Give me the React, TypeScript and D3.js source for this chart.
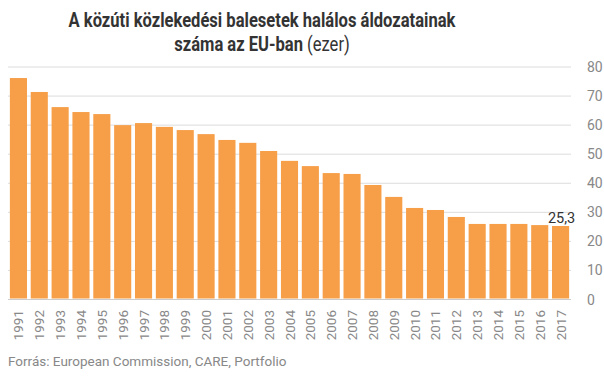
import React from "react";
import * as d3 from "d3";

const years = ["1991","1992","1993","1994","1995","1996","1997","1998","1999","2000","2001","2002","2003","2004","2005","2006","2007","2008","2009","2010","2011","2012","2013","2014","2015","2016","2017"];
const deaths = [76.2,71.4,66.2,64.5,63.8,60.0,60.7,59.4,58.3,56.9,54.9,53.9,51.1,47.7,45.9,43.5,43.2,39.4,35.3,31.5,30.8,28.4,26.0,26.0,26.0,25.6,25.3];
const yTicks = [0,10,20,30,40,50,60,70,80];
const lastLabel = "25,3";

const W = 604, H = 376;
const left = 8, right = 571, top = 67, bottom = 299.5;

export default function App() {
  const x = d3.scaleBand<string>().domain(years).range([left, right]).paddingInner(0.18).paddingOuter(0.09);
  const y = d3.scaleLinear().domain([0, 80]).range([bottom, top]);
  const font = "Roboto, 'Open Sans', sans-serif";
  const lastYear = years[years.length - 1];
  const lastVal = deaths[deaths.length - 1];
  return (
    <svg width={W} height={H} style={{ position: "absolute", left: 0, top: 0, background: "#fff" }} fontFamily={font}>
      <g transform="translate(262,0) scale(0.85,1)">
        <text x={0} y={27} textAnchor="middle" fontSize={19.5} fontWeight="bold" fill="#333">A közúti közlekedési balesetek halálos áldozatainak</text>
        <text x={0} y={51} textAnchor="middle" fontSize={19.5} fill="#333">
          <tspan fontWeight="bold">száma az EU-ban</tspan>
          <tspan> (ezer)</tspan>
        </text>
      </g>
      {yTicks.map(t => (
        <g key={t}>
          <line x1={left} x2={right} y1={y(t)} y2={y(t)} stroke={t === 0 ? "#ccc" : "#dcdcdc"} strokeWidth={1} />
          <text x={587} y={y(t) + 5} fontSize={14} fill="#888">{t}</text>
        </g>
      ))}
      {years.map((yr, i) => (
        <rect key={yr} x={x(yr)} width={x.bandwidth()} y={y(deaths[i])} height={y(0) - y(deaths[i]) - 1} fill="#F69E48" />
      ))}
      {years.map(yr => (
        <text key={yr} transform={`translate(${(x(yr) as number) + x.bandwidth() / 2 + 5},310) rotate(-90)`} textAnchor="end" fontSize={13.5} fill="#888">{yr}</text>
      ))}
      <text x={(x(lastYear) as number) + x.bandwidth() / 2 + 1} y={y(lastVal) - 3} textAnchor="middle" fontSize={14.5} fill="#333">{lastLabel}</text>
      <text x={8} y={366} fontSize={13.5} fill="#888">Forrás: European Commission, CARE, Portfolio</text>
    </svg>
  );
}
